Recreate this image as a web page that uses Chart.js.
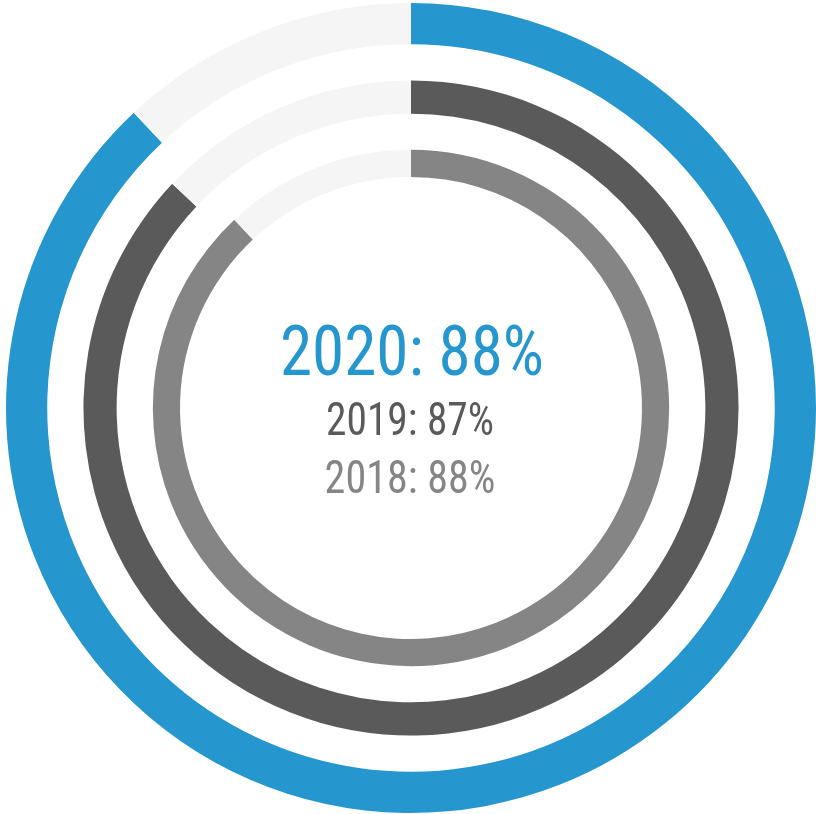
<!DOCTYPE html>
<html>
<head>
<meta charset="utf-8">
<script src="https://cdn.jsdelivr.net/npm/chart.js@4/dist/chart.umd.min.js"></script>
<style>
  html, body { margin: 0; padding: 0; background: #fff; }
  #wrap { position: relative; width: 816px; height: 814px; }
  .label {
    position: absolute;
    left: 0;
    width: 816px;
    text-align: center;
    line-height: 1;
    white-space: nowrap;
    font-family: "Liberation Sans Narrow", "Roboto Condensed", Roboto, sans-serif;
  }
</style>
</head>
<body>
<div id="wrap">
  <canvas id="chart" width="816" height="814"></canvas>
  <div id="labels"></div>
</div>
<script>
// Data: one ring per year, outer ring first
const years = ["2020", "2019", "2018"];
const percents = [88, 87, 88];

const ringColors = ["#2596ce", "#5a5a5a", "#858585"];
const restColor = "#f5f5f5";

// ring thickness (relative weights) and blank gaps between rings
const ringWeights = [41, 33, 27];
const gapWeight = 36;

// Build the datasets: ring, gap, ring, gap, ring
const datasets = [];
years.forEach((year, i) => {
  if (i > 0) {
    datasets.push({
      label: "gap",
      data: [1],
      backgroundColor: "rgba(0,0,0,0)",
      borderWidth: 0,
      weight: gapWeight,
    });
  }
  datasets.push({
    label: year,
    data: [percents[i], 100 - percents[i]],
    backgroundColor: [ringColors[i], restColor],
    borderWidth: 0,
    weight: ringWeights[i],
  });
});

new Chart(document.getElementById("chart"), {
  type: "doughnut",
  data: { labels: ["value", "rest"], datasets: datasets },
  options: {
    responsive: false,
    animation: false,
    events: [],
    cutout: 231,
    layout: { padding: { left: 6, top: 2, right: 0, bottom: 0 } },
    plugins: {
      legend: { display: false },
      tooltip: { enabled: false },
    },
  },
});

// Center labels as real text
const labelStyles = [
  { size: 70, top: 316, left: 4, sx: 0.93 },
  { size: 46, top: 396, left: 2, sx: 0.9 },
  { size: 46, top: 454, left: 2, sx: 0.915 },
];
const labelsBox = document.getElementById("labels");
years.forEach((year, i) => {
  const el = document.createElement("div");
  const st = labelStyles[i];
  el.className = "label";
  el.textContent = year + ": " + percents[i] + "%";
  el.style.fontSize = st.size + "px";
  el.style.top = st.top + "px";
  el.style.left = st.left + "px";
  el.style.color = ringColors[i];
  el.style.transform = "scaleX(" + st.sx + ")";
  labelsBox.appendChild(el);
});
</script>
</body>
</html>
